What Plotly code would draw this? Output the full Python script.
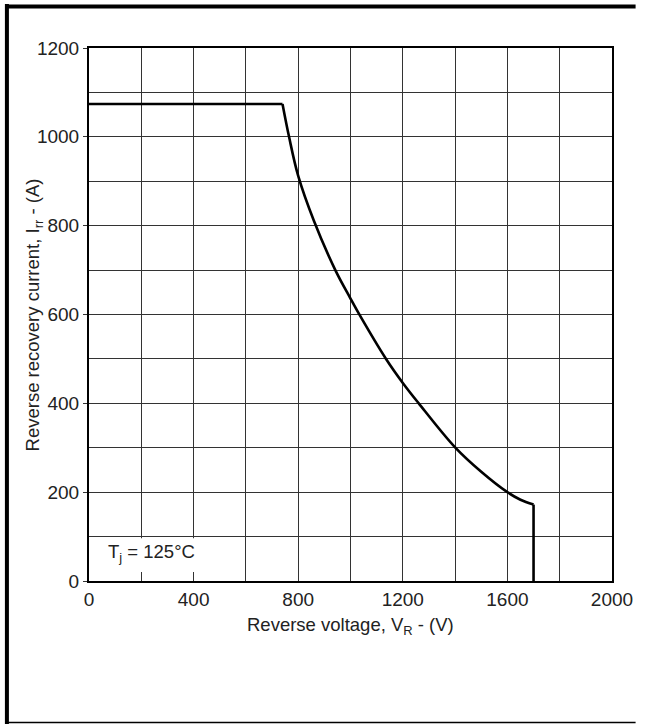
import plotly.graph_objects as go

# Data
flat_v = [0, 740]
flat_i = [1074, 1074]
curve_v = [740, 765, 800, 860, 942, 1000, 1032, 1136, 1200, 1261, 1400, 1500, 1600, 1650, 1700]
curve_i = [1074, 1000, 912, 811, 700, 636, 602, 500, 446, 400, 301, 246, 200, 183, 172]
drop_v = [1700, 1700]
drop_i = [172, 0]

x_ticks = [0, 400, 800, 1200, 1600, 2000]
y_ticks = [0, 200, 400, 600, 800, 1000, 1200]

W, H = 645, 724
ML, MR, MT, MB = 89, 24, 48, 143
PW, PH = W - ML - MR, H - MT - MB

def px(xp):
    return (xp - ML) / PW

def py(yp):
    return (H - MB - yp) / PH

font = "Liberation Sans, Arial, sans-serif"
TXT = "#222"
line_style = dict(color="black", width=2.6)

fig = go.Figure()
fig.add_trace(go.Scatter(x=flat_v, y=flat_i, mode="lines", line=line_style, showlegend=False))
fig.add_trace(go.Scatter(x=curve_v, y=curve_i, mode="lines",
                         line=dict(color="black", width=2.6, shape="spline", smoothing=1.0),
                         showlegend=False))
fig.add_trace(go.Scatter(x=drop_v, y=drop_i, mode="lines", line=line_style, showlegend=False))

fig.update_layout(
    width=W, height=H,
    margin=dict(l=ML, r=MR, t=MT, b=MB, pad=0),
    paper_bgcolor="white", plot_bgcolor="white",
    font=dict(family=font, size=19, color=TXT),
    showlegend=False,
)
fig.update_xaxes(
    range=[0, 2000], tickvals=x_ticks, showgrid=True, gridcolor="#333", gridwidth=1.4,
    minor=dict(dtick=200, showgrid=True, gridcolor="#333", gridwidth=1.4),
    showline=True, linecolor="black", linewidth=2, mirror=True,
    ticks="", zeroline=False, tickfont=dict(size=19, color=TXT),
)
fig.update_yaxes(
    range=[0, 1200], tickvals=y_ticks, showgrid=True, gridcolor="#333", gridwidth=1.4,
    minor=dict(dtick=100, showgrid=True, gridcolor="#333", gridwidth=1.4),
    showline=True, linecolor="black", linewidth=2, mirror=True,
    ticks="outside", ticklen=4, tickcolor="#333", zeroline=False,
    tickfont=dict(size=19, color=TXT),
)

# white box behind the Tj label
fig.add_shape(type="rect", xref="x", yref="y", x0=8, x1=430, y0=20, y1=96,
              fillcolor="white", line=dict(width=0), layer="between")
fig.add_annotation(x=66, y=62, xref="x", yref="y", text="T<sub>j</sub> = 125°C",
                   showarrow=False, xanchor="left", yanchor="middle",
                   font=dict(size=18.5, color=TXT))

# axis titles
fig.add_annotation(x=0.5, y=py(626), xref="paper", yref="paper",
                   text="Reverse voltage, V<sub>R</sub> - (V)", showarrow=False,
                   xanchor="center", yanchor="middle", font=dict(size=18.5, color=TXT))
fig.add_annotation(x=px(33), y=0.5, xref="paper", yref="paper",
                   text="Reverse recovery current, I<sub>rr</sub> - (A)", showarrow=False,
                   textangle=-90, xanchor="center", yanchor="middle", font=dict(size=18.5, color=TXT))

# frame around the image
fig.add_shape(type="line", xref="paper", yref="paper", x0=px(5.5), x1=px(5.5), y0=py(4), y1=py(724),
              line=dict(color="black", width=4))
fig.add_shape(type="line", xref="paper", yref="paper", x0=px(4), x1=px(645), y0=py(6.5), y1=py(6.5),
              line=dict(color="black", width=4))
fig.add_shape(type="line", xref="paper", yref="paper", x0=px(4), x1=px(645), y0=py(722.5), y1=py(722.5),
              line=dict(color="black", width=1.5))

fig.write_html("out.html", config={"displayModeBar": False},
               post_script="document.body.style.margin='0px';document.body.style.overflow='hidden';")
